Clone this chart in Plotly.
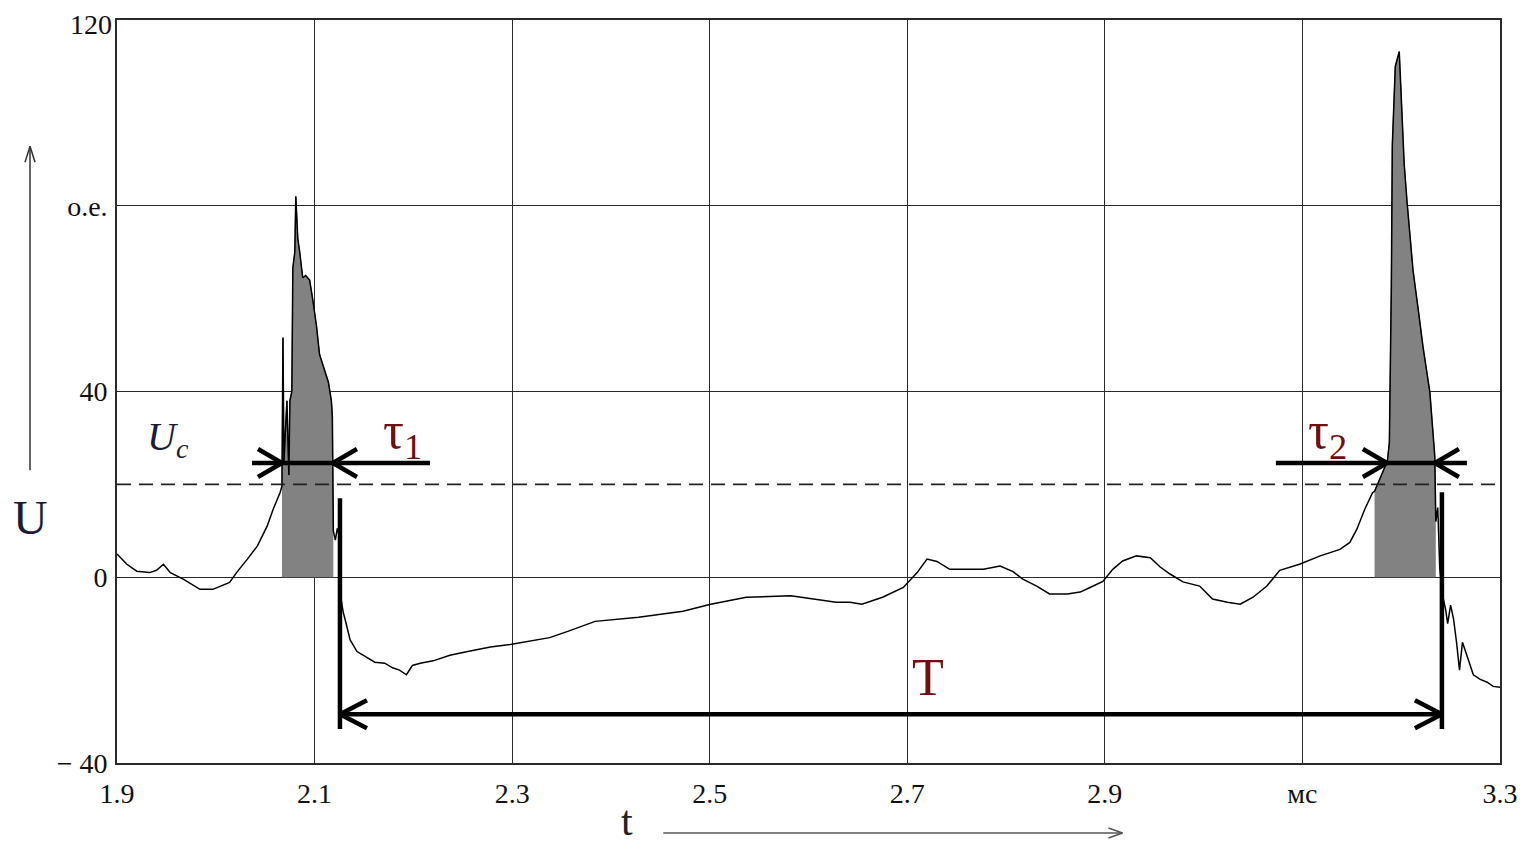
import plotly.graph_objects as go

# ---------------- data (t in ms, U in relative units) ----------------
t_pre = [1.900, 1.910, 1.920, 1.933, 1.940, 1.947, 1.954, 1.967, 1.984, 1.997,
         2.014, 2.021, 2.032, 2.042, 2.052, 2.058, 2.065]
u_pre = [5, 2.8, 1.3, 1.0, 1.5, 2.8, 1.0, -0.4, -2.6, -2.6,
         -1.1, 1.0, 3.9, 6.7, 11, 14.6, 18.2]

t_pulse1 = [2.067, 2.068, 2.069, 2.072, 2.074, 2.075, 2.077, 2.078, 2.080, 2.081,
            2.083, 2.085, 2.088, 2.091, 2.095, 2.098, 2.102, 2.105, 2.111, 2.114,
            2.117, 2.118, 2.119]
u_pulse1 = [19.6, 51.6, 25, 38, 22, 38, 40, 66.6, 70, 82,
            73, 70, 64.5, 65, 64, 60, 54, 48, 44, 42,
            38, 34.6, 10]

t_mid = [2.121, 2.123, 2.125, 2.127, 2.129, 2.132, 2.136, 2.143, 2.151, 2.161,
         2.171, 2.179, 2.186, 2.193, 2.199, 2.207, 2.220, 2.237, 2.255, 2.278,
         2.298, 2.338, 2.357, 2.384, 2.428, 2.473, 2.501, 2.537, 2.582, 2.628,
         2.642, 2.654, 2.675, 2.696, 2.710, 2.720, 2.730, 2.743, 2.777, 2.794,
         2.807, 2.817, 2.831, 2.844, 2.862, 2.875, 2.885, 2.898, 2.908, 2.918,
         2.932, 2.946, 2.956, 2.966, 2.979, 2.996, 3.009, 3.024, 3.037, 3.050,
         3.064, 3.077, 3.097, 3.118, 3.138, 3.148, 3.155, 3.163, 3.171]
u_mid = [8, 10.5, 9, -5, -7.5, -10, -13.5, -16, -17, -18.3,
         -18.5, -19.5, -20, -21, -19, -18.5, -18, -16.8, -16, -15,
         -14.5, -13, -11.6, -9.5, -8.6, -7.3, -5.8, -4.3, -4, -5.4,
         -5.4, -5.8, -4.3, -2.2, 1, 3.9, 3.4, 1.7, 1.7, 2.4,
         1.2, -0.4, -1.9, -3.6, -3.6, -3.2, -2.2, -0.9, 1.7, 3.5,
         4.6, 4.2, 2.2, 0.7, -1, -1.9, -4.7, -5.4, -5.8, -4.3,
         -1.9, 1.5, 2.8, 4.6, 6, 7.5, 10.3, 14.6, 18.2]

t_pulse2 = [3.173, 3.178, 3.186, 3.188, 3.190, 3.191, 3.194, 3.198, 3.201, 3.203,
            3.206, 3.209, 3.212, 3.217, 3.222, 3.229, 3.232, 3.234, 3.235]
u_pulse2 = [18.5, 21, 25, 29, 62.6, 93, 110, 113.2, 98.5, 89,
            80.6, 73, 66, 58, 49.7, 39.8, 31.8, 26, 12]

t_post = [3.237, 3.239, 3.242, 3.245, 3.247, 3.250, 3.253, 3.256, 3.259, 3.262,
          3.267, 3.273, 3.280, 3.287, 3.293, 3.300]
u_post = [15, 2, -4, -7, -10, -6, -9, -14, -20, -14,
          -17, -21, -22, -22.6, -23.5, -23.7]

x_ticks = [1.9, 2.1, 2.3, 2.5, 2.7, 2.9, 3.1, 3.3]
x_ticktext = ["1.9", "2.1", "2.3", "2.5", "2.7", "2.9", "мс", "3.3"]
y_ticks = [-40, 0, 40, 80, 120]
y_ticktext = ["− 40", "0", "40", "o.e.", ""]
y_top_label = "120"   # drawn separately so it stays inside the page

U_c = 20            # threshold level
tau_level = 24.6    # level of tau arrows
T_level = -29.5     # level of period arrow
T_start, T_end = 2.1257, 3.2412
tau1_line = (2.0367, 2.2168)
tau1_tips = (2.067, 2.1186)
tau2_line = (3.0731, 3.2665)
tau2_tips = (3.1855, 3.2341)

SERIF = "Liberation Serif"
RED = "#6e1111"

# ---------------- figure ----------------
fig = go.Figure()

for tp, up in ((t_pulse1, u_pulse1), (t_pulse2, u_pulse2)):
    fig.add_trace(go.Scatter(x=tp, y=up, mode="lines", fill="tozeroy",
                             fillcolor="#828282",
                             line=dict(color="#5a5a5a", width=1),
                             hoverinfo="skip", showlegend=False))

t_all = t_pre + t_pulse1 + t_mid + t_pulse2 + t_post
u_all = u_pre + u_pulse1 + u_mid + u_pulse2 + u_post
fig.add_trace(go.Scatter(x=t_all, y=u_all, mode="lines",
                         line=dict(color="black", width=1.5),
                         showlegend=False))


def chevron(x, y, arms, xref="x", yref="y", width=4.5, color="black"):
    out = []
    for dx, dy in arms:
        out.append(dict(type="line", xref=xref, yref=yref,
                        xsizemode="pixel", ysizemode="pixel",
                        xanchor=x, yanchor=y, x0=0, y0=0, x1=dx, y1=dy,
                        line=dict(color=color, width=width)))
    return out


RIGHT = [(-24, 14), (-24, -14)]   # tip pointing right
LEFT = [(24, 14), (24, -14)]      # tip pointing left

shapes = []
# threshold dashed line
shapes.append(dict(type="line", xref="x", yref="y", x0=1.9, x1=3.3, y0=U_c, y1=U_c,
                   line=dict(color="#222", width=1.6, dash="14px,8px")))
# tau1
shapes.append(dict(type="line", xref="x", yref="y", x0=tau1_line[0], x1=tau1_line[1],
                   y0=tau_level, y1=tau_level, line=dict(color="black", width=4.5)))
shapes += chevron(tau1_tips[0], tau_level, RIGHT)
shapes += chevron(tau1_tips[1], tau_level, LEFT)
# tau2
shapes.append(dict(type="line", xref="x", yref="y", x0=tau2_line[0], x1=tau2_line[1],
                   y0=tau_level, y1=tau_level, line=dict(color="black", width=4.5)))
shapes += chevron(tau2_tips[0], tau_level, RIGHT)
shapes += chevron(tau2_tips[1], tau_level, LEFT)
# period T
shapes.append(dict(type="line", xref="x", yref="y", x0=T_start, x1=T_start,
                   y0=17, y1=-32.7, line=dict(color="black", width=4.5)))
shapes.append(dict(type="line", xref="x", yref="y", x0=T_end, x1=T_end,
                   y0=18.3, y1=-32.7, line=dict(color="black", width=4.5)))
shapes.append(dict(type="line", xref="x", yref="y", x0=T_start, x1=T_end,
                   y0=T_level, y1=T_level, line=dict(color="black", width=4.5)))
shapes += chevron(T_start, T_level, [(27, 14), (27, -14)])
shapes += chevron(T_end, T_level, [(-27, 14), (-27, -14)])
# axis direction arrows (outside plot)
shapes.append(dict(type="line", xref="paper", yref="paper", x0=-0.0629, x1=-0.0629,
                   y0=0.394, y1=0.830, line=dict(color="#333", width=1.5)))
shapes += chevron(-0.0629, 0.830, [(5, -16), (-5, -16)], xref="paper", yref="paper",
                  width=1.5, color="#333")
shapes.append(dict(type="line", xref="paper", yref="paper", x0=0.395, x1=0.727,
                   y0=-0.0942, y1=-0.0942, line=dict(color="#555", width=1.5)))
shapes += chevron(0.727, -0.0942, [(-14, 5), (-14, -5)], xref="paper", yref="paper",
                  width=1.5, color="#555")

annotations = [
    dict(x=2.721, y=-21.5, text="T", font=dict(family=SERIF, size=52, color=RED)),
    dict(x=2.1885, y=30.8, text="τ<sub>1</sub>", font=dict(family=SERIF, size=52, color=RED)),
    dict(x=3.1255, y=30.8, text="τ<sub>2</sub>", font=dict(family=SERIF, size=52, color=RED)),
    dict(x=1.9516, y=29.7, text="<i>U<sub>c</sub></i>", font=dict(family=SERIF, size=40, color="#1c1c38")),
    dict(x=-0.0629, y=0.331, xref="paper", yref="paper", text="U",
         font=dict(family=SERIF, size=48, color="#1c1c38")),
    dict(x=0.369, y=-0.078, xref="paper", yref="paper", text="t",
         font=dict(family=SERIF, size=42, color="#222")),
]
for a in annotations:
    a.setdefault("xref", "x")
    a.setdefault("yref", "y")
    a["showarrow"] = False
    a["xanchor"] = "center"
    a["yanchor"] = "middle"

annotations.append(dict(x=0, y=1.0162, xref="paper", yref="paper", text=y_top_label,
                        showarrow=False, xanchor="right", yanchor="top", xshift=-4,
                        borderpad=0,
                        font=dict(family=SERIF, size=28, color="#111")))

fig.update_layout(
    width=1522, height=841,
    margin=dict(l=109, r=30, t=12, b=86, autoexpand=False),
    paper_bgcolor="white", plot_bgcolor="white",
    shapes=shapes, annotations=annotations,
    xaxis=dict(range=[1.9, 3.3], tickvals=x_ticks, ticktext=x_ticktext,
               showgrid=True, gridcolor="#2a2a2a", gridwidth=1.4,
               showline=True, linecolor="#2a2a2a", linewidth=1.6, mirror=True,
               zeroline=False, ticks="", ticklen=0, ticklabelstandoff=5,
               ticklabeloverflow="allow", automargin=False,
               tickfont=dict(family=SERIF, size=28, color="#111")),
    yaxis=dict(range=[-40, 120], tickvals=y_ticks, ticktext=y_ticktext,
               showgrid=True, gridcolor="#2a2a2a", gridwidth=1.4,
               showline=True, linecolor="#2a2a2a", linewidth=1.6, mirror=True,
               zeroline=False, ticks="", ticklen=0, ticklabelstandoff=2,
               ticklabeloverflow="allow", automargin=False,
               tickfont=dict(family=SERIF, size=28, color="#111")),
)

fig.write_html("out.html")
